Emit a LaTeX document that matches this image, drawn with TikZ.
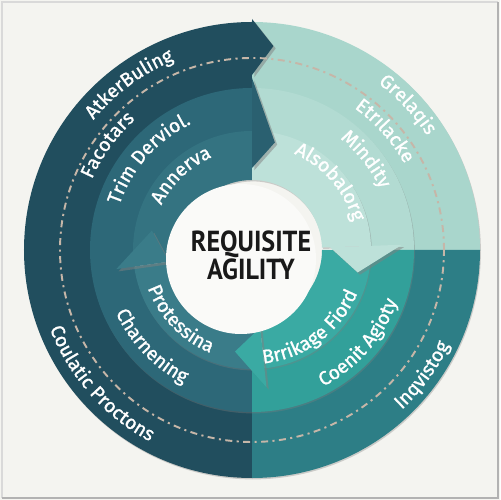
\documentclass[tikz,border=0pt]{standalone}
\usepackage{fontspec}
\usepackage{graphicx}
\setmainfont{Fira Sans}
\newfontfamily\lblface{Fira Sans}[FakeBold=1.2]
\newfontfamily\corefont{PT Sans}
\usetikzlibrary{decorations.text,shadows}

\definecolor{paper}{HTML}{F4F4F0}
\definecolor{navyring}{HTML}{214E5E}
\definecolor{navymid}{HTML}{2D6878}
\definecolor{navyin}{HTML}{3A7C89}
\definecolor{navyband}{HTML}{347381}
\definecolor{navyhead}{HTML}{2A6070}
\definecolor{mintout}{HTML}{A9D6CC}
\definecolor{mintmid}{HTML}{B2DBD2}
\definecolor{mintin}{HTML}{BDE1D9}
\definecolor{tealout}{HTML}{2D7E86}
\definecolor{tealmid}{HTML}{32A09A}
\definecolor{tealin}{HTML}{3AAAA3}
\definecolor{dashtone}{HTML}{C6B6A8}

\newcommand{\lblfont}{\color{white}\lblface\fontsize{11}{12}\selectfont}

% ring segment: style, from angle, to angle, inner r, outer r
\newcommand{\ringseg}[5]{%
  \path[#1] (#2:#5) arc[start angle=#2, end angle=#3, radius=#5]
    -- (#3:#4) arc[start angle=#3, end angle=#2, radius=#4] -- cycle;}
% arrow head: style, back angle, inner r, outer r, tip angle, tip r
\newcommand{\ringtip}[6]{%
  \path[#1] (#2:#3) -- (#5:#6) -- (#2:#4) -- cycle;}
% curved labels: mid angle, baseline r, text
\newcommand{\cwlabel}[3]{%
  \path[decorate, decoration={text along path, text align=center,
    text={|\lblfont|#3}}] (#1+60:#2) arc[start angle=#1+60, end angle=#1-60, radius=#2];}
\newcommand{\ccwlabel}[3]{%
  \path[decorate, decoration={text along path, text align=center,
    text={|\lblfont|#3}}] (#1-60:#2) arc[start angle=#1-60, end angle=#1+60, radius=#2];}

\begin{document}
\begin{tikzpicture}[scale=0.02,
  band/.style={fill=#1, drop shadow={shadow xshift=.5pt, shadow yshift=-.8pt, opacity=.35}},
  tip/.style={fill=#1, drop shadow={shadow xshift=1.3pt, shadow yshift=-1.3pt, opacity=.5}},
  dashring/.style={draw=dashtone, line width=1.1pt,
    dash pattern=on 4pt off 2.5pt on 1.2pt off 2.5pt}
  ]
  \useasboundingbox (-252,-250) rectangle (248,250);
  \fill[paper] (-252,-250) rectangle (248,250);
  \draw[gray!30, line width=.8pt] (-250,-248) -- (-250,248) -- (246,248);
  \draw[gray!60, line width=.8pt] (-250,-248) -- (246,-248) -- (246,248);
  % outer ring
  \ringseg{band=navyring}{90}{180}{160}{228}
  \ringseg{band=navyring}{180}{270}{160}{228}
  \ringseg{band=mintout}{0}{90}{160}{228}
  \ringseg{band=tealout}{-90}{0}{160}{228}
  % middle ring
  \ringseg{band=navymid}{90}{270}{118}{162}
  \ringseg{band=mintmid}{0}{90}{118}{162}
  \ringseg{band=tealmid}{-90}{0}{118}{162}
  % inner ring
  \ringseg{band=navyband}{90}{185}{70}{119}
  \ringseg{band=mintin}{2}{90}{70}{119}
  \ringseg{band=tealin}{-84}{0}{70}{119}
  \ringseg{band=navyin}{188}{272}{70}{119}
  % arrow heads
  \ringtip{tip=navyin}{188}{84}{137}{169}{102}
  \ringtip{tip=tealin}{-84}{78}{138}{-99.5}{103}
  \ringtip{tip=mintin}{2}{78}{150}{-12}{108}
  \ringtip{tip=navyhead}{90}{82}{172}{78}{110}
  \ringtip{tip=navyring}{90}{175}{231}{84}{205}
  % dashed track
  \draw[dashring] (0,0) circle[radius=192];
  % hub
  \fill[white!55!paper] (-11,-9) circle[radius=75];
  % labels
  \cwlabel{126.5}{205}{AtkerBuling}
  \cwlabel{144}{175}{Facotars}
  \cwlabel{138.5}{140}{Trim Derviol.}
  \cwlabel{133.5}{101}{Annerva}
  \cwlabel{43}{209}{Grelaqis}
  \cwlabel{41.8}{175}{Etrılacke}
  \cwlabel{38.5}{142}{Mindity}
  \cwlabel{41}{105}{Alsobalorg}
  \ccwlabel{-53.3}{114}{Brrikage Fiord}
  \ccwlabel{-41}{154}{Coenit Agioty}
  \ccwlabel{-36.3}{219}{Inqvistog}
  \ccwlabel{224}{111}{Protessina}
  \ccwlabel{223.8}{150}{Charnening}
  \ccwlabel{221.6}{217}{Coulatic Proctons}
  \node[font=\corefont\bfseries\fontsize{16.5}{16}\selectfont, align=center,
    text=black!90] (core) at (-1,-5)
    {\scalebox{.9}[1]{REQUISITE}\\\scalebox{.9}[1]{AGILITY}};
\end{tikzpicture}
\end{document}
